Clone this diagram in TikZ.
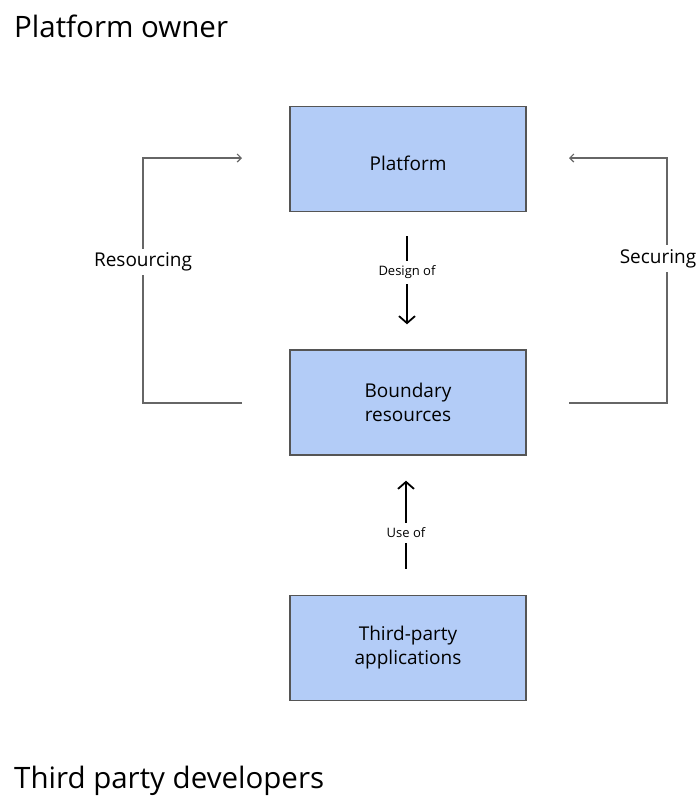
\documentclass[tikz,border=0pt]{standalone}
\usepackage{fontspec}
\setmainfont{Open Sans}
\usetikzlibrary{arrows.meta}
\definecolor{boxfill}{HTML}{B3CCF7}
\definecolor{boxline}{HTML}{555555}
\definecolor{loopline}{HTML}{666666}
\tikzset{
  block/.style={draw=boxline, line width=1.4pt, fill=boxfill, minimum width=236pt,
    minimum height=105pt, inner sep=0pt, align=center,
    font=\fontsize{19}{24}\selectfont},
  heading/.style={anchor=base west, inner sep=0pt, font=\fontsize{29.5}{34}\selectfont},
  loop/.style={draw=loopline, line width=1.3pt,
    -{Straight Barb[length=4pt,width=8pt,line width=1.2pt]}},
  loopnote/.style={fill=white, inner sep=4pt, font=\fontsize{19}{22}\selectfont},
  flow/.style={draw=black, line width=2pt,
    -{Straight Barb[length=7pt,width=16pt,line width=1.8pt]}},
  flownote/.style={fill=white, inner sep=5pt, font=\fontsize{13}{15}\selectfont},
}
\begin{document}
\begin{tikzpicture}[x=1pt, y=-1pt]
  \useasboundingbox (0,0) rectangle (699,796);

  % group headings
  \node[heading] (owner) at (14,37) {Platform owner};
  \node[heading] (devs) at (14,788) {Third party developers};

  % the three layers
  \node[block] (platform) at (408,159) {\smash{\raisebox{-11pt}{Platform}}};
  \node[block] (boundary) at (408,402.5) {Boundary\\resources};
  \node[block] (apps) at (408,648) {Third-party\\applications};

  % free ends of the two feedback loops
  \coordinate (resFrom) at (242,403);
  \coordinate (resTo) at (242,158);
  \coordinate (secFrom) at (569,403);
  \coordinate (secTo) at (569,158);

  % resourcing loop on the left
  \draw[loop] (resFrom) -- (143,403) -- node[loopnote, pos=0.576] (resLabel) {Resourcing}
    (143,158) -- (resTo);

  % securing loop on the right
  \draw[loop] (secFrom) -- (667,403) -- node[loopnote, pos=0.59, xshift=-9pt] (secLabel) {Securing}
    (667,158) -- (secTo);

  % design and use relations
  \draw[flow] ([xshift=-1pt, yshift=-24pt]platform.south) --
    node[flownote, pos=0.41] (designLabel) {Design of}
    ([xshift=-1pt, yshift=25pt]boundary.north);
  \draw[flow] ([xshift=-2pt, yshift=26pt]apps.north) --
    node[flownote, pos=0.41] (useLabel) {Use of}
    ([xshift=-2pt, yshift=-25pt]boundary.south);
\end{tikzpicture}
\end{document}
